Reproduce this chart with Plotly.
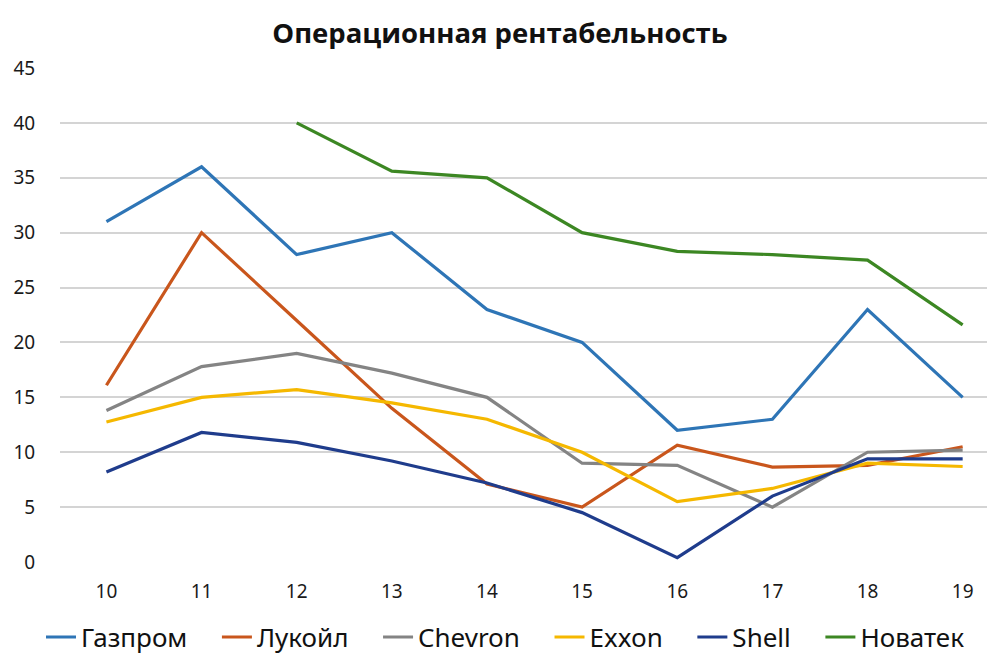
import plotly.graph_objects as go

years = [10, 11, 12, 13, 14, 15, 16, 17, 18, 19]
gazprom = [31, 36, 28, 30, 23, 20, 12, 13, 23, 15]
lukoil = [16.1, 30, 22, 14, 7.1, 5, 10.65, 8.65, 8.8, 10.5]
chevron = [13.8, 17.8, 19, 17.2, 15, 9, 8.8, 5, 10, 10.2]
exxon = [12.75, 15, 15.7, 14.5, 13, 10, 5.5, 6.7, 9, 8.7]
shell = [8.2, 11.8, 10.9, 9.2, 7.2, 4.5, 0.4, 6, 9.4, 9.4]
novatek = [None, None, 40, 35.6, 35, 30, 28.3, 28, 27.5, 21.6]

series = [
    ("Газпром", gazprom, "#2E75B6"),
    ("Лукойл", lukoil, "#C9561C"),
    ("Chevron", chevron, "#848484"),
    ("Exxon", exxon, "#F5B800"),
    ("Shell", shell, "#1F3C8C"),
    ("Новатек", novatek, "#3C8723"),
]

pad = "\u00a0\u00a0\u00a0\u2009"
fig = go.Figure()
for i, (name, vals, color) in enumerate(series):
    label = name + (pad if i < len(series) - 1 else "")
    fig.add_trace(go.Scatter(
        x=years, y=vals, name=label, mode="lines",
        line=dict(color=color, width=3.2),
        connectgaps=False,
    ))

# page has an 8px body margin, so figure coords = screen coords - 8
fig.update_layout(
    width=995, height=670,
    paper_bgcolor="white", plot_bgcolor="white",
    margin=dict(l=52, r=0, t=60, b=116),
    title=dict(text="<b>Операционная рентабельность</b>",
               x=(500 - 8) / 995, xanchor="center", y=1 - 25 / 670, yanchor="middle",
               font=dict(family="Open Sans, Noto Sans, sans-serif", size=27.5, color="#111111")),
    font=dict(family="Noto Sans, Open Sans, sans-serif", color="#1a1a1a"),
    showlegend=True,
    legend=dict(orientation="h", x=(41 - 60) / 943, xanchor="left", y=-0.152, yanchor="middle",
                font=dict(size=26, color="#111111"), itemwidth=30,
                traceorder="normal"),
)
fig.update_xaxes(
    range=[9.512, 19.424], tickvals=years, ticktext=[str(y) for y in years],
    showgrid=False, zeroline=False, showline=False,
    ticks="outside", ticklen=12, tickcolor="rgba(0,0,0,0)",
    tickfont=dict(size=19, color="#1a1a1a"),
)
fig.update_yaxes(
    range=[0, 45], tickvals=list(range(0, 50, 5)),
    showgrid=True, gridcolor="#d4d4d4", gridwidth=1.5,
    zeroline=False, showline=False,
    ticks="outside", ticklen=20, tickcolor="rgba(0,0,0,0)",
    tickfont=dict(size=19, color="#1a1a1a"),
)

fig.write_html("out.html")
